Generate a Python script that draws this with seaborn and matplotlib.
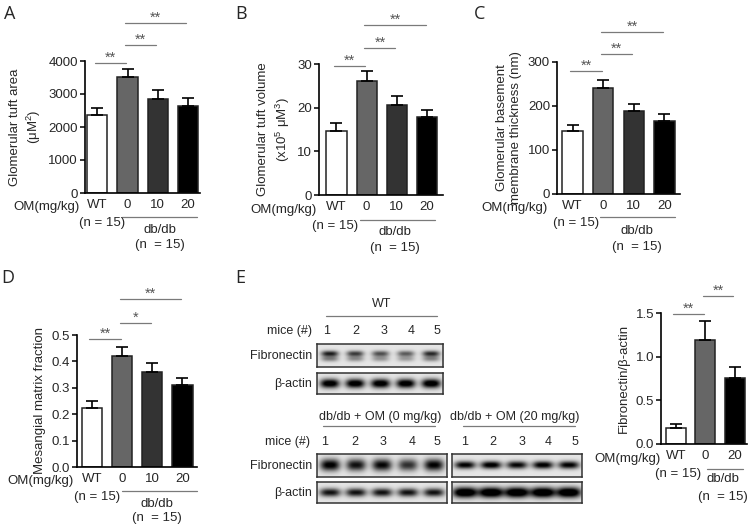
import numpy as np
import matplotlib
matplotlib.use("Agg")
import matplotlib.pyplot as plt
import seaborn as sns
from matplotlib.lines import Line2D

# ---- data ----
groups4 = ["WT", "0", "10", "20"]
groups3 = ["WT", "0", "20"]
bar_colors = {"WT": "#ffffff", "0": "#666666", "10": "#333333", "20": "#000000"}

tuft_area = [2350, 3510, 2850, 2630]
tuft_area_err = [240, 240, 260, 240]
tuft_vol = [14.6, 26.1, 20.6, 17.9]
tuft_vol_err = [1.8, 2.2, 2.0, 1.6]
gbm = [144, 240, 188, 167]
gbm_err = [13, 19, 16, 15]
mesangial = [0.222, 0.42, 0.361, 0.31]
mesangial_err = [0.029, 0.036, 0.032, 0.028]
fn_ratio = [0.18, 1.19, 0.76]
fn_ratio_err = [0.05, 0.22, 0.12]

sig4 = [(0, 1, "**"), (1, 2, "**"), (1, 3, "**")]
sig4_d = [(0, 1, "**"), (1, 2, "*"), (1, 3, "**")]
sig3 = [(0, 1, "**"), (1, 2, "**")]

mice = ["1", "2", "3", "4", "5"]
wt_fn = [0.8, 0.68, 0.6, 0.55, 0.75]
wt_actin = [0.95, 0.95, 0.95, 0.95, 0.97]
db0_fn = [0.95, 0.85, 0.9, 0.72, 0.92]
db0_actin = [0.85, 0.85, 0.85, 0.85, 0.85]
db20_fn = [0.85, 0.9, 0.82, 0.88, 0.85]
db20_actin = [1.0, 1.0, 1.0, 1.0, 1.0]

# ---- style ----
sns.set_theme(style="ticks")
plt.rcParams["font.family"] = ["Liberation Sans", "DejaVu Sans"]
plt.rcParams["mathtext.fontset"] = "custom"
plt.rcParams["mathtext.rm"] = "Liberation Sans"
plt.rcParams["mathtext.default"] = "regular"

W, H = 752, 528
fig = plt.figure(figsize=(W / 100, H / 100), dpi=100)
FS = 9.5
FS_BLOT = 9
SIG_COLOR = "#7a7a7a"


def px(x, y):
    return x / W, 1 - y / H


def add_ax(x0, x1, ytop, ybot):
    return fig.add_axes([x0 / W, 1 - ybot / H, (x1 - x0) / W, (ybot - ytop) / H])


def ftext(x, y, s, ha="center", size=FS, **kw):
    fig.text(*px(x, y), s, ha=ha, va="center", fontsize=size, **kw)


def fline(x0, x1, y, color=SIG_COLOR):
    fig.add_artist(Line2D([x0 / W, x1 / W], [1 - y / H, 1 - y / H],
                          transform=fig.transFigure, color=color, lw=0.9))


def bar_panel(rect, cats, means, errs, ymax, yticks, ylabel, sig, sig_y, xlim, fmt="{:g}"):
    ax = add_ax(*rect)
    sns.barplot(x=cats, y=means, hue=cats, palette=bar_colors, legend=False, ax=ax,
                width=0.67, edgecolor="#222222", linewidth=1.1, errorbar=None)
    n = len(cats)
    ax.errorbar(range(n), means, yerr=[np.zeros(n), errs], fmt="none", ecolor="black",
                elinewidth=1.2, capsize=4.5, capthick=1.2, zorder=1)
    ax.set_ylim(0, ymax)
    ax.set_xlim(*xlim)
    ax.set_yticks(yticks)
    ax.set_yticklabels([fmt.format(t) for t in yticks], fontsize=FS)
    ax.set_xticks(range(n))
    ax.set_xticklabels(cats, fontsize=FS)
    ax.tick_params(axis="x", length=0, pad=4.5)
    ax.tick_params(axis="y", length=3.5, width=1.1, pad=1.5, color="black")
    for side in ["top", "right"]:
        ax.spines[side].set_visible(False)
    for side in ["left", "bottom"]:
        ax.spines[side].set_linewidth(1.2)
        ax.spines[side].set_color("black")
    ax.set_ylabel(ylabel, fontsize=FS, labelpad=4, linespacing=1.3)
    tr = ax.get_xaxis_transform()
    for (i, j, s), yy in zip(sig, sig_y):
        ax.plot([i - 0.08, j - 0.05], [yy, yy], transform=tr, color=SIG_COLOR,
                lw=0.9, clip_on=False)
        ax.text((i + j) / 2 - 0.06, yy + 0.01, s, transform=tr, ha="center",
                va="baseline", fontsize=10.5, color="#555555")
    return ax


def group_labels(om_x, row_y, n_x, n_y, line_x0, line_x1, line_y, db_x, db_y, n2_y):
    ftext(om_x, row_y, "OM(mg/kg)", ha="right")
    ftext(n_x, n_y, "(n = 15)")
    fline(line_x0, line_x1, line_y)
    ftext(db_x, db_y, "db/db")
    ftext(db_x, n2_y, "(n  = 15)")


# ---- A ----
bar_panel((85, 200, 61, 193), groups4, tuft_area, tuft_area_err, 4000,
          [0, 1000, 2000, 3000, 4000], "Glomerular tuft area\n($\\mu$M$^2$)",
          sig4, [0.985, 1.12, 1.29], (-0.41, 3.4))
group_labels(80, 207, 102, 223, 122, 197, 217, 160, 230, 245)

# ---- B ----
bar_panel((319, 443, 64, 195), groups4, tuft_vol, tuft_vol_err, 30,
          [0, 10, 20, 30], "Glomerular tuft volume\n(x10$^5$ μM$^3$)",
          sig4, [0.985, 1.12, 1.295], (-0.58, 3.53))
group_labels(317, 210, 335, 226, 360, 435, 220, 395, 232, 248)

# ---- C ----
bar_panel((557, 680, 62, 194), groups4, gbm, gbm_err, 300,
          [0, 100, 200, 300], "Glomerular basement\nmembrane thickness (nm)",
          sig4, [0.93, 1.06, 1.23], (-0.51, 3.51))
group_labels(548, 208, 576, 223, 600, 675, 217, 637, 231, 247)

# ---- D ----
bar_panel((77, 197, 335, 467), groups4, mesangial, mesangial_err, 0.5,
          [0, 0.1, 0.2, 0.3, 0.4, 0.5], "Mesangial matrix fraction",
          sig4_d, [0.97, 1.09, 1.27], (-0.49, 3.48), fmt="{:.1f}")
group_labels(74, 481, 97, 497, 122, 197, 491, 157, 504, 518)

# ---- E bars ----
bar_panel((661, 747, 313, 444), groups3, fn_ratio, fn_ratio_err, 1.5,
          [0, 0.5, 1.0, 1.5], "Fibronectin/β-actin",
          sig3, [0.99, 1.13], (-0.5, 2.41), fmt="{:.1f}")
group_labels(661, 459, 678, 474, 707, 743, 469, 723, 479, 497)


# ---- E blots ----
def blot(box, levels, rows, width):
    x0, x1, y0, y1 = box
    ax = add_ax(x0, x1, y0, y1)
    n = len(levels)
    X, Y = np.meshgrid(np.linspace(0, n, 300), np.linspace(0, 1, 50))
    img = np.full(X.shape, 0.1)
    for i, lv in enumerate(levels):
        core = np.exp(-(np.abs(X - i - 0.5) / width) ** 3)
        for yc, wgt, sy in rows:
            img += lv * wgt * core * np.exp(-((Y - yc) / sy) ** 2)
    ax.imshow(img, cmap="gray_r", vmin=0, vmax=1.0, extent=(0, n, 0, 1),
              aspect="auto", interpolation="bilinear")
    ax.set_xticks([])
    ax.set_yticks([])
    for s in ax.spines.values():
        s.set_linewidth(1.1)
        s.set_color("#333333")


ftext(382, 304, "WT", size=FS_BLOT)
fline(326, 437, 316)
ftext(312, 331, "mice (#)", ha="right", size=FS_BLOT)
for m, x in zip(mice, [327, 356, 384, 411, 437]):
    ftext(x, 331, m, size=FS_BLOT)
blot((317, 443, 344, 367), wt_fn, [(0.42, 1.0, 0.13), (0.65, 0.5, 0.12)], 0.34)
blot((317, 443, 373, 394), wt_actin, [(0.5, 1.1, 0.22)], 0.38)
ftext(312, 356, "Fibronectin", ha="right", size=FS_BLOT)
ftext(312, 384, "β-actin", ha="right", size=FS_BLOT)

ftext(380, 417, "db/db + OM (0 mg/kg)", size=FS_BLOT)
fline(323, 435, 426)
ftext(515, 417, "db/db + OM (20 mg/kg)", size=FS_BLOT)
fline(463, 575, 426)
ftext(310, 442, "mice (#)", ha="right", size=FS_BLOT)
for m, x in zip(mice, [325, 355, 383, 412, 437]):
    ftext(x, 442, m, size=FS_BLOT)
for m, x in zip(mice, [465, 493, 522, 548, 575]):
    ftext(x, 442, m, size=FS_BLOT)
blot((317, 447, 454, 477), db0_fn, [(0.5, 1.0, 0.25)], 0.38)
blot((452, 582, 454, 477), db20_fn, [(0.5, 1.1, 0.16)], 0.4)
blot((317, 447, 482, 503), db0_actin, [(0.5, 1.0, 0.2)], 0.4)
blot((452, 582, 482, 503), db20_actin, [(0.5, 1.2, 0.25)], 0.47)
ftext(312, 466, "Fibronectin", ha="right", size=FS_BLOT)
ftext(312, 493, "β-actin", ha="right", size=FS_BLOT)

# ---- panel letters ----
for letter, (x, y) in zip("ABCDE", [(10, 14), (241, 14), (480, 14), (8, 278), (240, 278)]):
    fig.text(*px(x, y), letter, ha="center", va="center", fontsize=13,
             family=["Open Sans", "DejaVu Sans"])

fig.savefig("out.png", dpi=100)
